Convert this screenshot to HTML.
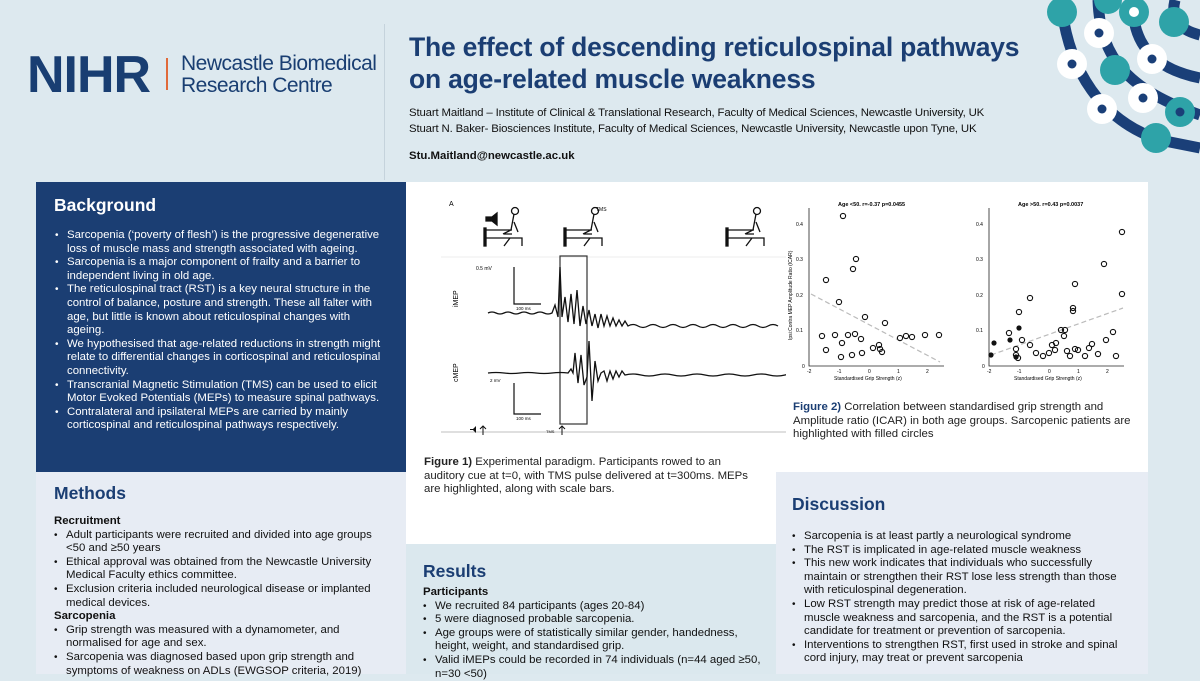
<!DOCTYPE html>
<html><head><meta charset="utf-8"><style>
*{margin:0;padding:0;box-sizing:border-box}
body{width:1200px;height:674px;overflow:hidden;background:#dde9ef;font-family:"Liberation Sans",Arial,sans-serif;position:relative}
.a{position:absolute}
ul{list-style:none}
li{position:relative;padding-left:12px}
li:before{content:"•";position:absolute;left:0;font-size:10px}
.txt{font-size:11.4px;line-height:13.6px}
h2{font-size:17.5px;font-weight:bold}
.sub{font-weight:bold}
</style></head><body>

<!-- Header -->
<div class="a" style="left:384px;top:24px;width:1px;height:156px;background:#c5d3dc"></div>
<div class="a" style="left:27px;top:47px;font-size:52px;line-height:56px;font-weight:bold;color:#193e72;letter-spacing:-1px">NIHR</div>
<div class="a" style="left:166px;top:58px;width:2px;height:32px;background:#e06a3a"></div>
<div class="a" style="left:181px;top:53px;font-size:21px;line-height:22px;color:#193e72;letter-spacing:-0.5px">Newcastle Biomedical<br>Research Centre</div>
<div class="a" style="left:409px;top:31px;font-size:26.5px;line-height:32px;font-weight:bold;color:#1b3e73;letter-spacing:-0.2px">The effect of descending reticulospinal pathways<br>on age-related muscle weakness</div>
<div class="a" style="left:409px;top:105px;font-size:11.4px;line-height:16px;color:#111;letter-spacing:-0.15px">Stuart Maitland – Institute of Clinical &amp; Translational Research, Faculty of Medical Sciences, Newcastle University, UK<br>Stuart N. Baker- Biosciences Institute, Faculty of Medical Sciences, Newcastle University, Newcastle upon Tyne, UK</div>
<div class="a" style="left:409px;top:150px;font-size:11.4px;font-weight:bold;color:#111">Stu.Maitland@newcastle.ac.uk</div>

<svg class="a" style="left:1030px;top:0" width="170" height="180">
<g fill="none" stroke="#1a3f78" stroke-width="11">
<path d="M32 10 C40 70 70 120 130 140 L170 148"/>
<path d="M68 0 C70 60 100 90 170 115"/>
<path d="M103 10 C105 50 130 70 170 78"/>
<path d="M145 0 C140 20 150 30 170 35"/>
</g>
<circle cx="32" cy="12" r="15" fill="#2ea3a8"/>
<circle cx="78" cy="0" r="14" fill="#2ea3a8"/>
<circle cx="104" cy="12" r="15" fill="#2ea3a8"/><circle cx="104" cy="12" r="5" fill="#fff"/>
<circle cx="144" cy="22" r="15" fill="#2ea3a8"/>
<circle cx="69" cy="33" r="15" fill="#fff"/><circle cx="69" cy="33" r="4.5" fill="#1a3f78"/>
<circle cx="42" cy="64" r="15" fill="#fff"/><circle cx="42" cy="64" r="4.5" fill="#1a3f78"/>
<circle cx="85" cy="70" r="15" fill="#2ea3a8"/>
<circle cx="122" cy="59" r="15" fill="#fff"/><circle cx="122" cy="59" r="4.5" fill="#1a3f78"/>
<circle cx="113" cy="98" r="15" fill="#fff"/><circle cx="113" cy="98" r="4.5" fill="#1a3f78"/>
<circle cx="72" cy="109" r="15" fill="#fff"/><circle cx="72" cy="109" r="4.5" fill="#1a3f78"/>
<circle cx="150" cy="112" r="15" fill="#2ea3a8"/><circle cx="150" cy="112" r="4.5" fill="#1a3f78"/>
<circle cx="126" cy="138" r="15" fill="#2ea3a8"/>
</svg>

<!-- Panels -->
<div class="a" style="left:36px;top:182px;width:370px;height:290px;background:#1b3e73"></div>
<div class="a" style="left:36px;top:472px;width:370px;height:202px;background:#e7ecf4"></div>
<div class="a" style="left:406px;top:182px;width:742px;height:290px;background:#fff"></div>
<div class="a" style="left:406px;top:472px;width:370px;height:72px;background:#fff"></div>
<div class="a" style="left:406px;top:544px;width:370px;height:130px;background:#dbe8ee"></div>
<div class="a" style="left:776px;top:472px;width:372px;height:202px;background:#e7ecf4"></div>

<!-- Background -->
<h2 class="a" style="left:54px;top:195px;color:#fff">Background</h2>
<ul class="a txt" style="left:55px;top:229px;width:329px;color:#fff">
<li>Sarcopenia (‘poverty of flesh’) is the progressive degenerative loss of muscle mass and strength associated with ageing.</li>
<li>Sarcopenia is a major component of frailty and a barrier to independent living in old age.</li>
<li>The reticulospinal tract (RST) is a key neural structure in the control of balance, posture and strength. These all falter with age, but little is known about reticulospinal changes with ageing.</li>
<li>We hypothesised that age-related reductions in strength might relate to differential changes in corticospinal and reticulospinal connectivity.</li>
<li>Transcranial Magnetic Stimulation (TMS) can be used to elicit Motor Evoked Potentials (MEPs) to measure spinal pathways.</li>
<li>Contralateral and ipsilateral MEPs are carried by mainly corticospinal and reticulospinal pathways respectively.</li>
</ul>

<!-- Methods -->
<h2 class="a" style="left:54px;top:483px;color:#1b3e73">Methods</h2>
<div class="a txt" style="left:54px;top:515px;width:332px;color:#111">
<div class="sub">Recruitment</div>
<ul><li>Adult participants were recruited and divided into age groups &lt;50 and ≥50 years</li>
<li>Ethical approval was obtained from the Newcastle University Medical Faculty ethics committee.</li>
<li>Exclusion criteria included neurological disease or implanted medical devices.</li></ul>
<div class="sub">Sarcopenia</div>
<ul><li>Grip strength was measured with a dynamometer, and normalised for age and sex.</li>
<li>Sarcopenia was diagnosed based upon grip strength and symptoms of weakness on ADLs (EWGSOP criteria, 2019)</li></ul>
</div>

<!-- Figure 1 -->
<svg class="a" style="left:406px;top:182px" width="380" height="270" font-family="Liberation Sans">
<text x="43" y="24" font-size="7">A</text>
<g stroke="#111" fill="none" stroke-width="1.3">
<path d="M80 35 h6 l5-4 v12 l-5-4 h-6z" fill="#111"/>
<g id="p"><rect x="78" y="46" width="2" height="18" fill="#111"/><path d="M78 48 h28 M78 56 h38 v8 M104 56 l-6 8 M108 32 l-3 16 l-8 4 M108 40 l4 10 M98 52 h8"/><circle cx="109" cy="29" r="3.5"/></g>
<use href="#p" x="80"/><use href="#p" x="242"/>
</g>
<text x="190" y="29" font-size="5">TMS</text>
<line x1="35" y1="75" x2="380" y2="75" stroke="#ddd" stroke-width="0.5"/>
<rect x="154" y="74" width="27" height="168" fill="none" stroke="#333" stroke-width="1.2"/>
<text x="70" y="88" font-size="5">0.5 mV</text>
<path d="M108 85 v37 h27" stroke="#111" fill="none" stroke-width="1.2"/>
<text x="110" y="128" font-size="4.5">100 ms</text>
<text x="52" y="125" font-size="7" transform="rotate(-90 52 125)">iMEP</text>
<path d="M82 131 q4-2 8 0 t8 0 t8 0 t8 0 t8 0 t8 0 t8 0 t8 0 l3-8 3 12 2-50 2 50 3-20 3 25 3-28 3 30 3-34 3 36 3-20 3 18 3-14 3 16 3-12 3 14 3-14 3 12 3-10 3 10 3-8 3 8 3-6 3 6 3-5 3 5 q5-3 10 0 t10 0 t10 0 t10 0 t10 0 t10 0 t10 0 t10 0 t10 0 t10 0 t10 0 t10 0 t10 0 t10 0 t10 0" stroke="#111" fill="none" stroke-width="1.3"/>
<text x="52" y="200" font-size="7" transform="rotate(-90 52 200)">cMEP</text>
<path d="M82 191 q8-1 16 0 t16 0 t16 0 t16 0 t16 0 l3-4 2 4 2-20 3 30 3-28 3 30 3-8 2-36 3 60 3-40 3 20 3-8 3 -2 3 10 3-10 3 8 3-8 3 6 3-6 3 4 q8-2 16 0 t16 0 t16 0 t16 0 t16 0 t16 0 t16 0 t16 0 t16 0 t16 0 t16 0 t16 0" stroke="#111" fill="none" stroke-width="1.3"/>
<text x="84" y="200" font-size="4.5">2 mV</text>
<path d="M108 201 v31 h27" stroke="#111" fill="none" stroke-width="1.2"/>
<text x="110" y="238" font-size="4.5">100 ms</text>
<line x1="35" y1="250" x2="380" y2="250" stroke="#aaa" stroke-width="0.7"/>
<path d="M64 247 h3 l3-3 v7 l-3-3 h-3z" fill="#111"/>
<path d="M77 253 v-9 m-3 3 l3-3 3 3 M156 253 v-9 m-3 3 l3-3 3 3" stroke="#111" fill="none"/>
<text x="140" y="251" font-size="4">TMS</text>
</svg>
<div class="a" style="left:424px;top:456px;width:345px;font-size:11.4px;line-height:13.6px;color:#222;white-space:nowrap"><b>Figure 1)</b> Experimental paradigm. Participants rowed to an<br>auditory cue at t=0, with TMS pulse delivered at t=300ms. MEPs<br>are highlighted, along with scale bars.</div>

<!-- Figure 2 -->
<svg class="a" style="left:780px;top:190px" width="370" height="200" font-family="Liberation Sans" font-size="5">
<text x="58" y="16" font-size="5.5" font-weight="bold">Age &lt;50. r=-0.37 p=0.0455</text>
<text x="238" y="16" font-size="5.5" font-weight="bold">Age &gt;50. r=0.43 p=0.0037</text>
<g stroke="#222" stroke-width="0.8" fill="none"><path d="M29 18 V176 H164"/><path d="M209 18 V176 H344"/></g>
<text x="16" y="36">0.4</text><text x="16" y="71">0.3</text><text x="16" y="107">0.2</text><text x="16" y="142">0.1</text><text x="22" y="178">0</text>
<text x="196" y="36">0.4</text><text x="196" y="71">0.3</text><text x="196" y="107">0.2</text><text x="196" y="142">0.1</text><text x="202" y="178">0</text>
<text x="27" y="183">-2</text><text x="57" y="183">-1</text><text x="88" y="183">0</text><text x="117" y="183">1</text><text x="146" y="183">2</text>
<text x="207" y="183">-2</text><text x="237" y="183">-1</text><text x="268" y="183">0</text><text x="297" y="183">1</text><text x="326" y="183">2</text>
<text x="54" y="190">Standardised Grip Strength (z)</text><text x="234" y="190">Standardised Grip Strength (z)</text>
<text x="12" y="150" transform="rotate(-90 12 150)">Ipsi:Contra MEP Amplitude Ratio (ICAR)</text>
<g stroke="#bbb" stroke-dasharray="5 3" stroke-width="1.2"><line x1="31" y1="104" x2="160" y2="172"/><line x1="211" y1="165" x2="343" y2="118"/></g>
<g fill="none" stroke="#111" stroke-width="1.1">
<circle cx="63" cy="26" r="2.6"/><circle cx="76" cy="69" r="2.6"/><circle cx="73" cy="79" r="2.6"/><circle cx="46" cy="90" r="2.6"/><circle cx="59" cy="112" r="2.6"/><circle cx="85" cy="127" r="2.6"/><circle cx="105" cy="133" r="2.6"/><circle cx="42" cy="146" r="2.6"/><circle cx="55" cy="145" r="2.6"/><circle cx="68" cy="145" r="2.6"/><circle cx="75" cy="144" r="2.6"/><circle cx="81" cy="149" r="2.6"/><circle cx="46" cy="160" r="2.6"/><circle cx="62" cy="153" r="2.6"/><circle cx="61" cy="167" r="2.6"/><circle cx="72" cy="165" r="2.6"/><circle cx="93" cy="158" r="2.6"/><circle cx="99" cy="155" r="2.6"/><circle cx="100" cy="159" r="2.6"/><circle cx="102" cy="162" r="2.6"/><circle cx="120" cy="148" r="2.6"/><circle cx="126" cy="146" r="2.6"/><circle cx="132" cy="147" r="2.6"/><circle cx="145" cy="145" r="2.6"/><circle cx="159" cy="145" r="2.6"/><circle cx="82" cy="163" r="2.6"/>
<circle cx="342" cy="42" r="2.6"/><circle cx="324" cy="74" r="2.6"/><circle cx="342" cy="104" r="2.6"/><circle cx="295" cy="94" r="2.6"/><circle cx="293" cy="118" r="2.6"/><circle cx="293" cy="121" r="2.6"/><circle cx="250" cy="108" r="2.6"/><circle cx="239" cy="122" r="2.6"/><circle cx="229" cy="143" r="2.6"/><circle cx="242" cy="150" r="2.6"/><circle cx="250" cy="155" r="2.6"/><circle cx="236" cy="159" r="2.6"/><circle cx="236" cy="165" r="2.6"/><circle cx="238" cy="168" r="2.6"/><circle cx="256" cy="163" r="2.6"/><circle cx="263" cy="166" r="2.6"/><circle cx="272" cy="155" r="2.6"/><circle cx="276" cy="153" r="2.6"/><circle cx="281" cy="140" r="2.6"/><circle cx="285" cy="140" r="2.6"/><circle cx="284" cy="146" r="2.6"/><circle cx="287" cy="161" r="2.6"/><circle cx="290" cy="166" r="2.6"/><circle cx="295" cy="159" r="2.6"/><circle cx="298" cy="160" r="2.6"/><circle cx="305" cy="166" r="2.6"/><circle cx="309" cy="158" r="2.6"/><circle cx="312" cy="154" r="2.6"/><circle cx="318" cy="164" r="2.6"/><circle cx="326" cy="150" r="2.6"/><circle cx="333" cy="142" r="2.6"/><circle cx="336" cy="166" r="2.6"/><circle cx="269" cy="163" r="2.6"/><circle cx="275" cy="160" r="2.6"/>
</g>
<g fill="#111"><circle cx="211" cy="165" r="2.6"/><circle cx="214" cy="153" r="2.6"/><circle cx="230" cy="150" r="2.6"/><circle cx="239" cy="138" r="2.6"/><circle cx="236" cy="167" r="2.6"/></g>
</svg>
<div class="a" style="left:793px;top:401px;width:345px;font-size:11.4px;line-height:13.6px;color:#222"><b style="color:#1b3e73">Figure 2)</b> Correlation between standardised grip strength and Amplitude ratio (ICAR) in both age groups. Sarcopenic patients are highlighted with filled circles</div>

<!-- Results -->
<h2 class="a" style="left:423px;top:561px;color:#1b3e73">Results</h2>
<div class="a txt" style="left:423px;top:586px;width:350px;color:#111">
<div class="sub">Participants</div>
<ul><li>We recruited 84 participants (ages 20-84)</li>
<li>5 were diagnosed probable sarcopenia.</li>
<li>Age groups were of statistically similar gender, handedness, height, weight, and standardised grip.</li>
<li>Valid iMEPs could be recorded in 74 individuals (n=44 aged ≥50, n=30 &lt;50)</li></ul>
</div>

<!-- Discussion -->
<h2 class="a" style="left:792px;top:494px;color:#1b3e73">Discussion</h2>
<ul class="a txt" style="left:792px;top:530px;width:340px;color:#111">
<li>Sarcopenia is at least partly a neurological syndrome</li>
<li>The RST is implicated in age-related muscle weakness</li>
<li>This new work indicates that individuals who successfully maintain or strengthen their RST lose less strength than those with reticulospinal degeneration.</li>
<li>Low RST strength may predict those at risk of age-related muscle weakness and sarcopenia, and the RST is a potential candidate for treatment or prevention of sarcopenia.</li>
<li>Interventions to strengthen RST, first used in stroke and spinal cord injury, may treat or prevent sarcopenia</li>
</ul>
</body></html>
